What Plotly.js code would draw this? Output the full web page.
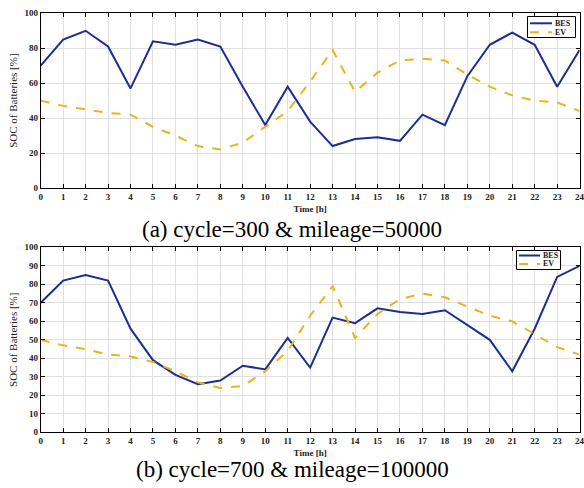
<!DOCTYPE html>
<html>
<head>
<meta charset="utf-8">
<script src="https://cdn.plot.ly/plotly-3.0.1.min.js"></script>
<style>html,body{margin:0;padding:0;background:#fff;}#chart{width:584px;height:488px;}</style>
</head>
<body>
<div id="chart"></div>
<script>
// Data
const hours = [0,1,2,3,4,5,6,7,8,9,10,11,12,13,14,15,16,17,18,19,20,21,22,23,24];
const besA = [70,85,90,81,57,84,82,85,81,58,36,58,38,24,28,29,27,42,36,64,82,89,82,58,79];
const evA  = [50,47,45,43,42,35,30,24,22,26,35,44,61,79,55,66,73,74,73,65,58,53,50,49,44];
const besB = [70,82,85,82,56,39,31,26,28,36,34,51,35,62,59,67,65,64,66,58,50,33,56,84,90];
const evB  = [50,47,45,42,41,38,33,27,24,25,33,44,63,79,51,64,72,75,73,68,63,60,53,46,42];
const captionA = "(a) cycle=300 & mileage=50000";
const captionB = "(b) cycle=700 & mileage=100000";
const seriesNames = ["BES", "EV"];
const xTitle = "Time [h]";
const yTitle = "SOC of Batteries [%]";

const W = 584, H = 488;
const blue = "#1B2F8F";
const gold = "#EDB120";
const serif = "Liberation Serif, Times New Roman, serif";
const tickFont = {family: serif, size: 9, color: "#222", weight: "bold"};

const traces = [
  {x: hours, y: besA, name: seriesNames[0], mode: "lines", line: {color: blue, width: 2}, xaxis: "x", yaxis: "y"},
  {x: hours, y: evA, name: seriesNames[1], mode: "lines", line: {color: gold, width: 2, dash: "dash"}, xaxis: "x", yaxis: "y"},
  {x: hours, y: besB, name: seriesNames[0], mode: "lines", line: {color: blue, width: 2}, xaxis: "x2", yaxis: "y2"},
  {x: hours, y: evB, name: seriesNames[1], mode: "lines", line: {color: gold, width: 2, dash: "dash"}, xaxis: "x2", yaxis: "y2"}
];

function xAxis(anchor) {
  return {
    domain: [40.7/W, 579.6/W], anchor: anchor, range: [0, 24],
    tickmode: "array", tickvals: hours, ticktext: hours.map(String),
    ticks: "inside", ticklen: 4, tickcolor: "#000", mirror: "ticks",
    showline: true, linecolor: "#000", linewidth: 1,
    showgrid: true, gridcolor: "#E0E0E0", zeroline: false,
    tickfont: tickFont, ticklabeloverflow: "allow",
    title: {text: xTitle, font: {family: serif, size: 9, color: "#222", weight: "bold"}, standoff: 4}
  };
}
function yAxis(anchor, domain, dtick) {
  return {
    domain: domain, anchor: anchor, range: [0, 100], dtick: dtick,
    ticks: "inside", ticklen: 4, tickcolor: "#000", mirror: "ticks",
    showline: true, linecolor: "#000", linewidth: 1,
    showgrid: true, gridcolor: "#E0E0E0", zeroline: false,
    tickfont: tickFont, ticklabeloverflow: "allow",
    title: {text: yTitle, font: {family: serif, size: 11, color: "#222"}, standoff: 4}
  };
}

// Manual legend (box, line samples and labels) in pixel positions converted to paper units
function px(x) { return x / W; }
function py(y) { return (H - y) / H; }
function legendItems(box, rows, sx0, sx1, tx) {
  const shapes = [
    {type: "rect", xref: "paper", yref: "paper", x0: px(box[0]), x1: px(box[1]), y0: py(box[2]), y1: py(box[3]),
     line: {color: "#000", width: 1}, fillcolor: "#fff", layer: "above"},
    {type: "line", xref: "paper", yref: "paper", x0: px(sx0), x1: px(sx1), y0: py(rows[0]), y1: py(rows[0]),
     line: {color: blue, width: 2}, layer: "above"},
    {type: "line", xref: "paper", yref: "paper", x0: px(sx0), x1: px(sx1), y0: py(rows[1]), y1: py(rows[1]),
     line: {color: gold, width: 2, dash: "dash"}, layer: "above"}
  ];
  const annos = seriesNames.map((n, i) => ({
    text: n, xref: "paper", yref: "paper", x: px(tx), y: py(rows[i]), xanchor: "left", yanchor: "middle",
    showarrow: false, font: {family: serif, size: 8, color: "#222", weight: "bold"}
  }));
  return {shapes, annos};
}
const legA = legendItems([527.5, 575.5, 16.5, 37.5], [23.3, 32.3], 530, 552, 553);
const legB = legendItems([516.5, 560.5, 250.5, 269.5], [255.5, 264], 519, 540, 541);

const layout = {
  width: W, height: H,
  margin: {l: 0, r: 0, t: 0, b: 0},
  paper_bgcolor: "#fff", plot_bgcolor: "#fff",
  showlegend: false,
  xaxis: xAxis("y"),
  yaxis: yAxis("x", [py(188), py(13.3)], 20),
  xaxis2: xAxis("y2"),
  yaxis2: yAxis("x2", [py(432.3), py(247.3)], 10),
  shapes: legA.shapes.concat(legB.shapes),
  annotations: [
    {text: captionA, xref: "paper", yref: "paper", x: 0.5, y: py(229), xanchor: "center", yanchor: "middle", showarrow: false, font: {family: serif, size: 23, color: "#000"}},
    {text: captionB, xref: "paper", yref: "paper", x: 0.5, y: py(469), xanchor: "center", yanchor: "middle", showarrow: false, font: {family: serif, size: 23, color: "#000"}}
  ].concat(legA.annos, legB.annos)
};

Plotly.newPlot("chart", traces, layout, {displayModeBar: false, staticPlot: true});
</script>
</body>
</html>
